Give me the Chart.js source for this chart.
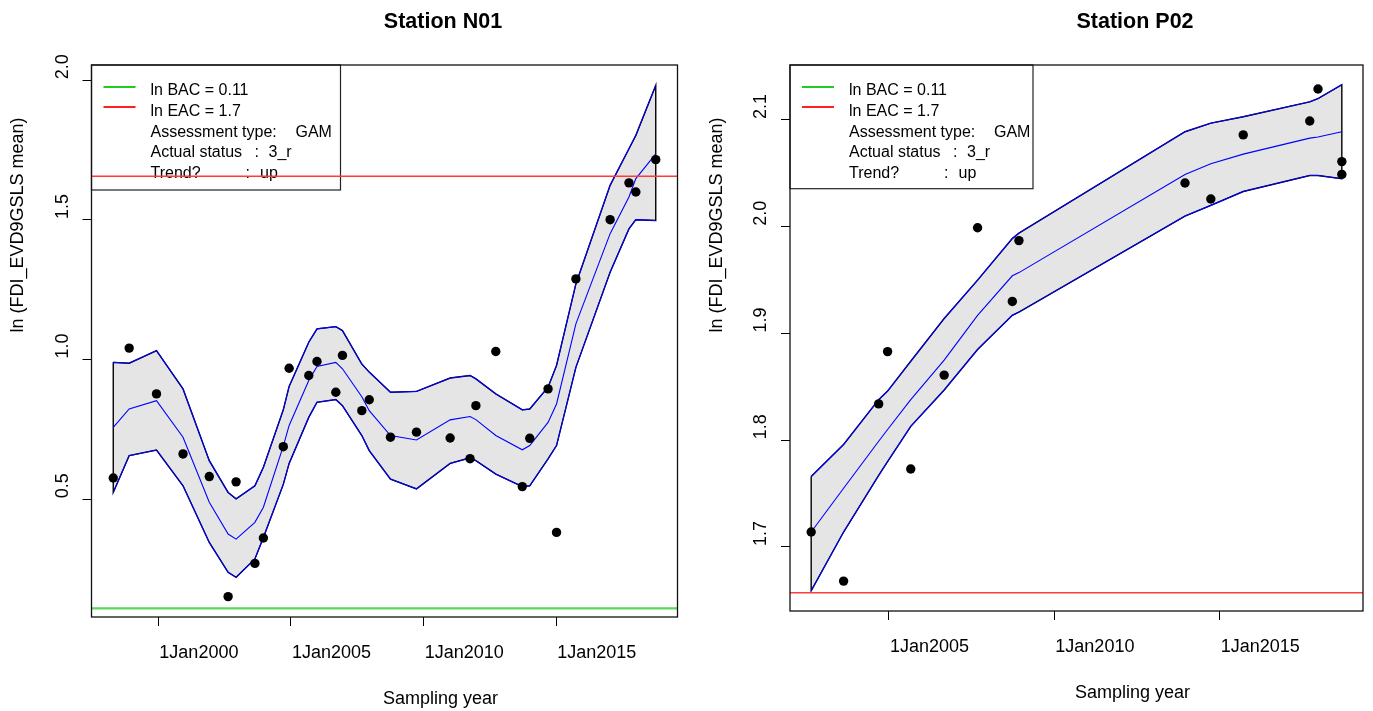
<!DOCTYPE html>
<html>
<head>
<meta charset="utf-8">
<script src="https://cdn.jsdelivr.net/npm/chart.js@4.4.0/dist/chart.umd.min.js"></script>
<style>
  body { margin: 0; background: #fff; width: 1373px; height: 711px; overflow: hidden; position: relative; }
  canvas { position: absolute; top: 0; }
</style>
</head>
<body>
<canvas id="n01" width="686" height="711" style="left:0"></canvas>
<canvas id="p02" width="687" height="711" style="left:686px"></canvas>
<script>
// ---- Station N01 (decimal years) ----
const n01Years = [1998.30, 1998.90, 1999.93, 2000.93, 2001.92, 2002.63, 2002.93, 2003.64, 2003.96, 2004.71, 2004.93,
  2005.67, 2005.98, 2006.69, 2006.94, 2007.67, 2007.95, 2008.75, 2009.73, 2011.00, 2011.75, 2011.97,
  2012.72, 2013.72, 2014.00, 2014.69, 2015.01, 2015.74, 2017.03, 2017.74, 2018.00, 2018.75];
const n01Values = [0.576, 1.041, 0.877, 0.662, 0.581, 0.151, 0.562, 0.270, 0.361, 0.688, 0.969,
  0.943, 0.993, 0.883, 1.015, 0.817, 0.856, 0.722, 0.740, 0.719, 0.645, 0.835,
  1.029, 0.545, 0.718, 0.895, 0.381, 1.289, 1.501, 1.633, 1.600, 1.716];
const n01Mean = [0.757, 0.823, 0.853, 0.722, 0.489, 0.375, 0.357, 0.417, 0.471, 0.690, 0.764,
  0.925, 0.975, 0.990, 0.967, 0.867, 0.817, 0.728, 0.712, 0.784, 0.796, 0.785,
  0.728, 0.677, 0.692, 0.775, 0.841, 1.128, 1.451, 1.582, 1.648, 1.737];
const n01Upper = [0.990, 0.987, 1.032, 0.895, 0.638, 0.524, 0.501, 0.548, 0.614, 0.820, 0.904,
  1.062, 1.110, 1.118, 1.104, 0.984, 0.955, 0.883, 0.886, 0.934, 0.943, 0.931,
  0.877, 0.820, 0.823, 0.901, 0.979, 1.271, 1.624, 1.755, 1.803, 1.982];
const n01Lower = [0.524, 0.656, 0.676, 0.548, 0.345, 0.238, 0.220, 0.286, 0.363, 0.553, 0.628,
  0.793, 0.847, 0.857, 0.835, 0.728, 0.674, 0.572, 0.537, 0.628, 0.648, 0.638,
  0.590, 0.545, 0.548, 0.644, 0.692, 0.972, 1.313, 1.468, 1.501, 1.498];

// ---- Station P02 ----
const p02ObsYears = [2002.65, 2003.63, 2004.69, 2004.96, 2005.66, 2006.67, 2007.68, 2008.73, 2008.93,
  2013.95, 2014.73, 2015.71, 2017.72, 2017.97, 2018.69, 2018.69];
const p02Values = [1.714, 1.668, 1.834, 1.883, 1.773, 1.861, 1.999, 1.930, 1.987,
  2.041, 2.026, 2.086, 2.099, 2.129, 2.061, 2.049];
const p02Years = [2002.65, 2003.63, 2004.69, 2004.96, 2005.66, 2006.67, 2007.68, 2008.73, 2008.93,
  2013.95, 2014.73, 2015.71, 2017.72, 2017.97, 2018.69];
const p02Mean = [1.714, 1.755, 1.799, 1.810, 1.838, 1.875, 1.917, 1.954, 1.957,
  2.049, 2.059, 2.068, 2.083, 2.084, 2.089];
const p02Upper = [1.766, 1.796, 1.838, 1.846, 1.874, 1.914, 1.950, 1.989, 1.994,
  2.089, 2.097, 2.103, 2.117, 2.120, 2.133];
const p02Lower = [1.659, 1.714, 1.767, 1.780, 1.813, 1.847, 1.885, 1.917, 1.920,
  2.010, 2.020, 2.033, 2.048, 2.048, 2.045];

// assessment criteria
const bac = 0.109;
const eac = 1.657;

// axes
const n01XRange = [1997.48, 2019.57];
const n01YRange = [0.078, 2.055];
const n01XTicks = [2000, 2005, 2010, 2015];
const n01YTicks = [0.5, 1.0, 1.5, 2.0];
const p02XRange = [2002.01, 2019.33];
const p02YRange = [1.640, 2.1515];
const p02XTicks = [2005, 2010, 2015];
const p02YTicks = [1.7, 1.8, 1.9, 2.0, 2.1];

const xLabel = 'Sampling year';
const yLabel = 'ln (FDI_EVD9GSLS mean)';
const legendRows = [
  ['ln BAC = 0.11'],
  ['ln EAC = 1.7'],
  ['Assessment type:', 'GAM'],
  ['Actual status', ':', '3_r'],
  ['Trend?', ':', 'up']
];

const FONT = '"Liberation Sans", Arial, sans-serif';

function pts(xs, ys) {
  return xs.map((x, i) => ({ x: x, y: ys[i] }));
}

function outline(xs, up, lo) {
  const a = pts(xs, up);
  const b = pts(xs, lo).reverse();
  return a.concat(b, [a[0]]);
}

const decor = {
  id: 'decor',
  beforeDatasetsDraw(chart, args, o) {
    const { ctx, chartArea: a } = chart;
    const L = a.left, T = a.top;
    ctx.save();
    ctx.fillStyle = '#fff';
    ctx.fillRect(L, T, o.legendW, o.legendH);
    ctx.strokeStyle = '#222';
    ctx.lineWidth = 1.2;
    ctx.strokeRect(L, T, o.legendW, o.legendH);
    ctx.lineWidth = 2;
    ctx.strokeStyle = '#1fcc1f';
    ctx.beginPath(); ctx.moveTo(L + 12, T + 22); ctx.lineTo(L + 44, T + 22); ctx.stroke();
    ctx.strokeStyle = '#ff2020';
    ctx.beginPath(); ctx.moveTo(L + 12, T + 42); ctx.lineTo(L + 44, T + 42); ctx.stroke();
    ctx.fillStyle = '#000';
    ctx.font = '16px ' + FONT;
    ctx.textAlign = 'left';
    const xs = [[59], [59], [59, 204], [59, 163, 177], [59, 154, 168.5]];
    legendRows.forEach((row, i) => {
      const yy = T + 30.3 + i * 20.6;
      row.forEach((s, j) => ctx.fillText(s, L + xs[i][j], yy));
    });
    ctx.restore();
  },
  afterDraw(chart, args, o) {
    const { ctx, chartArea: a, scales: { x, y } } = chart;
    ctx.save();
    ctx.strokeStyle = '#111';
    ctx.lineWidth = 1.3;
    ctx.strokeRect(a.left, a.top, a.right - a.left, a.bottom - a.top);

    ctx.fillStyle = '#000';
    ctx.textAlign = 'center';
    ctx.font = 'bold 21.5px ' + FONT;
    const cx = (a.left + a.right) / 2;
    ctx.fillText(o.title, cx + 58.5, 28.3);

    ctx.font = '18px ' + FONT;
    ctx.fillText(xLabel, cx + 56, a.bottom + 86.5);

    ctx.textAlign = 'left';
    x.ticks.forEach(t => {
      ctx.fillText('1Jan' + t.value, x.getPixelForValue(t.value) + 1, a.bottom + 41);
    });
    y.ticks.forEach(t => {
      ctx.save();
      ctx.translate(a.left - 24, y.getPixelForValue(t.value) - 1);
      ctx.rotate(-Math.PI / 2);
      ctx.fillText(t.value.toFixed(1), 0, 0);
      ctx.restore();
    });

    ctx.save();
    ctx.translate(a.left - 68.5, a.top + 160);
    ctx.rotate(-Math.PI / 2);
    ctx.textAlign = 'center';
    ctx.fillText(yLabel, 0, 0);
    ctx.restore();
    ctx.restore();
  }
};

function buildChart(id, c) {
  const line = (data, color, width) => ({
    data: data, borderColor: color, borderWidth: width, pointRadius: 0, fill: false, tension: 0
  });
  return new Chart(document.getElementById(id), {
    type: 'line',
    data: {
      datasets: [
        { data: pts(c.obsYears, c.values), showLine: false, pointRadius: 4.7,
          pointBackgroundColor: '#000', pointBorderWidth: 0 },
        line([{ x: c.xRange[0], y: bac }, { x: c.xRange[1], y: bac }], '#5cd65c', 2.2),
        line([{ x: c.xRange[0], y: eac }, { x: c.xRange[1], y: eac }], '#ff3b3b', 1.5),
        line(pts(c.years, c.mean), '#0000ff', 1.1),
        line(pts(c.years, c.upper), '#0000ff', 1.1),
        line(pts(c.years, c.lower), '#0000ff', 1.1),
        line(outline(c.years, c.upper, c.lower), '#000', 1.4),
        { data: pts(c.years, c.upper), borderWidth: 0, pointRadius: 0, tension: 0,
          fill: { target: 5 }, backgroundColor: '#e5e5e5' }
      ]
    },
    options: {
      responsive: false,
      animation: false,
      devicePixelRatio: 1,
      layout: { padding: { top: 65, right: c.padRight, left: 0, bottom: 0 } },
      plugins: {
        legend: { display: false },
        tooltip: { enabled: false },
        decor: { title: c.title, legendW: c.legendW, legendH: c.legendH }
      },
      scales: {
        x: {
          type: 'linear', min: c.xRange[0], max: c.xRange[1],
          afterBuildTicks: s => { s.ticks = c.xTicks.map(v => ({ value: v })); },
          afterFit: s => { s.height = c.xAxisH; },
          ticks: { display: false },
          grid: { drawOnChartArea: false, drawTicks: true, tickLength: 9, color: '#000', lineWidth: 1 },
          border: { display: false }
        },
        y: {
          type: 'linear', min: c.yRange[0], max: c.yRange[1],
          afterBuildTicks: s => { s.ticks = c.yTicks.map(v => ({ value: v })); },
          afterFit: s => { s.width = c.yAxisW; },
          ticks: { display: false },
          grid: { drawOnChartArea: false, drawTicks: true, tickLength: 9, color: '#000', lineWidth: 1 },
          border: { display: false }
        }
      }
    },
    plugins: [decor]
  });
}

buildChart('n01', {
  title: 'Station N01',
  obsYears: n01Years, values: n01Values,
  years: n01Years, mean: n01Mean, upper: n01Upper, lower: n01Lower,
  xRange: n01XRange, yRange: n01YRange, xTicks: n01XTicks, yTicks: n01YTicks,
  yAxisW: 91.5, xAxisH: 94, padRight: 8.5, legendW: 249, legendH: 125
});

buildChart('p02', {
  title: 'Station P02',
  obsYears: p02ObsYears, values: p02Values,
  years: p02Years, mean: p02Mean, upper: p02Upper, lower: p02Lower,
  xRange: p02XRange, yRange: p02YRange, xTicks: p02XTicks, yTicks: p02YTicks,
  yAxisW: 104, xAxisH: 100, padRight: 10, legendW: 243, legendH: 123.7
});
</script>
</body>
</html>
